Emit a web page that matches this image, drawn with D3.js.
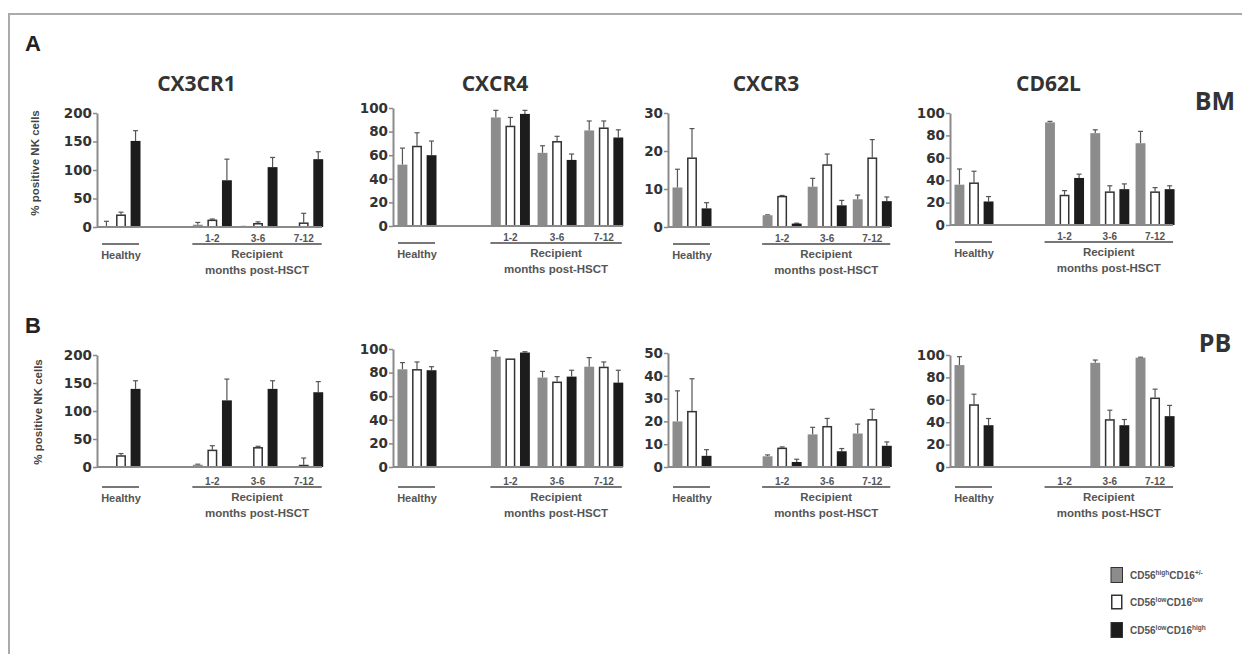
<!DOCTYPE html>
<html><head><meta charset="utf-8">
<script src="https://cdn.jsdelivr.net/npm/d3@7"></script>
<style>body{margin:0;background:#fff}</style>
</head><body>
<svg id="c" width="1242" height="654"></svg>
<script>
// ---------- data ----------
const groups = ["Healthy", "1-2", "3-6", "7-12"];
const seriesKeys = ["high", "lowlow", "lowhigh"];
const markers = ["CX3CR1", "CXCR4", "CXCR3", "CD62L"];
const tissues = ["BM", "PB"];
const rowLetters = ["A", "B"];
const ticksBM = [[0, 50, 100, 150, 200], [0, 20, 40, 60, 80, 100], [0, 10, 20, 30], [0, 20, 40, 60, 80, 100]];
const ticksPB = [[0, 50, 100, 150, 200], [0, 20, 40, 60, 80, 100], [0, 10, 20, 30, 40, 50], [0, 20, 40, 60, 80, 100]];

// mean values: [group][series]  (gray, white, black)
const bm_cx3cr1_mean = [[0.5, 22, 151], [4, 13, 82], [0.5, 7, 105], [0.5, 8, 119]];
const bm_cx3cr1_err  = [[10, 26, 169], [8, 14, 119], [1, 9, 122], [0.5, 24, 132]];
const bm_cxcr4_mean  = [[52, 68, 60], [92, 85, 95], [62, 72, 56], [81, 83.5, 75]];
const bm_cxcr4_err   = [[66, 79, 72], [98, 92, 98], [68, 76, 61], [89, 89, 81.5]];
const bm_cxcr3_mean  = [[10.4, 18.3, 4.9], [3.1, 8.2, 0.9], [10.6, 16.5, 5.7], [7.3, 18.3, 6.8]];
const bm_cxcr3_err   = [[15.2, 25.9, 6.4], [3.2, 8.3, 1], [12.8, 19.2, 7], [8.4, 23, 7.9]];
const bm_cd62l_mean  = [[36, 38, 21], [91.6, 27, 42], [82, 30, 32], [73, 30, 32]];
const bm_cd62l_err   = [[50, 48, 25.4], [92.5, 30.7, 45.4], [85, 35, 36.7], [83.6, 33.4, 35]];
const pb_cx3cr1_mean = [[0, 21, 139.5], [4, 31, 119], [1, 35.6, 139.5], [1, 4, 133.5]];
const pb_cx3cr1_err  = [[0, 24, 154], [5, 38, 157], [1, 37, 154], [1, 16, 152.5]];
const pb_cxcr4_mean  = [[82.8, 83, 82], [93.5, 92, 97], [75.8, 72.4, 76.6], [85, 85, 71.5]];
const pb_cxcr4_err   = [[88.5, 89, 85], [98.6, 92, 97.7], [81, 76.6, 82], [92.7, 89, 82]];
const pb_cxcr3_mean  = [[20, 24.6, 4.9], [4.7, 8.5, 2.2], [14.3, 18, 6.9], [14.7, 21, 9.3]];
const pb_cxcr3_err   = [[33.4, 38.7, 7.6], [5.3, 8.8, 3.4], [17.4, 21.3, 8.1], [18.8, 25.3, 11]];
const pb_cd62l_mean  = [[91, 56, 37.3], [null, null, null], [93, 42.7, 37.3], [97.6, 62, 45.4]];
const pb_cd62l_err   = [[98.5, 65, 43.3], [null, null, null], [95.5, 50.7, 42.4], [98, 69.5, 55]];

const means = [[bm_cx3cr1_mean, bm_cxcr4_mean, bm_cxcr3_mean, bm_cd62l_mean],
               [pb_cx3cr1_mean, pb_cxcr4_mean, pb_cxcr3_mean, pb_cd62l_mean]];
const errs  = [[bm_cx3cr1_err, bm_cxcr4_err, bm_cxcr3_err, bm_cd62l_err],
               [pb_cx3cr1_err, pb_cxcr4_err, pb_cxcr3_err, pb_cd62l_err]];
const ticks = [ticksBM, ticksPB];

// ---------- layout ----------
const svg = d3.select("#c");
const colAxis = [97, 393, 668, 950];
const colEnd  = [322, 623, 890, 1173];
const topY  = [[113, 108, 113, 113], [355, 349, 353, 355]];
const zeroY = [[227, 226, 227, 225], [467, 467, 467, 467]];
const lineOff = [17, 20];
const fills = ["#8c8c8c", "#ffffff", "#1c1c1c"];
const slots = [0, 2, 3, 4];

// frame
svg.append("line").attr("x1", 9).attr("x2", 1242).attr("y1", 14).attr("y2", 14).attr("stroke", "#aaa").attr("stroke-width", 2);
svg.append("line").attr("x1", 9).attr("x2", 9).attr("y1", 13).attr("y2", 654).attr("stroke", "#aaa").attr("stroke-width", 2);

const font = "'Liberation Sans', Arial, sans-serif";

rowLetters.forEach((L, r) => {
  svg.append("text").attr("x", 25).attr("y", r === 0 ? 51 : 333).text(L)
    .attr("font-family", font).attr("font-weight", "bold").attr("font-size", 22).attr("fill", "#222");
  svg.append("text").attr("x", 1215).attr("y", r === 0 ? 110 : 352).text(tissues[r])
    .attr("text-anchor", "middle").attr("font-family", "'Open Sans', sans-serif").attr("font-weight", "bold")
    .attr("font-size", 25).attr("fill", "#333");
  const yc = r === 0 ? 163 : 412, xc = r === 0 ? 39 : 42;
  svg.append("text").attr("transform", `translate(${xc},${yc}) rotate(-90)`).text("% positive NK cells")
    .attr("text-anchor", "middle").attr("font-family", font).attr("font-weight", "bold")
    .attr("font-size", 11.5).attr("fill", "#444");
});

markers.forEach((m, c) => {
  svg.append("text").attr("x", (colAxis[c] + colEnd[c]) / 2 - 13).attr("y", 91).text(m)
    .attr("text-anchor", "middle").attr("font-family", "'Open Sans', sans-serif").attr("font-weight", "bold")
    .attr("font-size", 21).attr("fill", "#333");
});

for (let r = 0; r < 2; r++) {
  for (let c = 0; c < 4; c++) {
    const tk = ticks[r][c];
    const y = d3.scaleLinear().domain([0, tk[tk.length - 1]]).range([zeroY[r][c], topY[r][c]]);
    const step = (colEnd[c] - colAxis[c]) * 0.203;
    const x = d3.scaleLinear().domain([0, 4]).range([colAxis[c] + 24, colAxis[c] + 24 + 4 * step]);
    const inner = d3.scaleBand().domain(seriesKeys).range([-19.5, 19.5]).paddingInner(0.32);
    const bw = inner.bandwidth();
    const g = svg.append("g");

    // y axis
    const ax = g.append("g").attr("transform", `translate(${colAxis[c]},0)`)
      .call(d3.axisLeft(y).tickValues(tk).tickSize(4).tickPadding(1).tickSizeOuter(0));
    ax.select(".domain").attr("stroke", "#8a8a8a").attr("stroke-width", 2);
    ax.selectAll(".tick line").attr("stroke", "#8a8a8a").attr("stroke-width", 1.5);
    ax.selectAll(".tick text").attr("font-family", "'DejaVu Sans', sans-serif").attr("font-weight", "bold")
      .attr("font-size", 13.5).attr("fill", "#333");

    // bars
    groups.forEach((gname, gi) => {
      const cx = x(slots[gi]);
      seriesKeys.forEach((s, si) => {
        const v = means[r][c][gi][si];
        const e = errs[r][c][gi][si];
        if (v === null) return;
        const bx = cx + inner(s);
        const by = y(v);
        const h = y(0) - by;
        const mid = bx + bw / 2;
        if (e !== null && e > v) {
          g.append("line").attr("x1", mid).attr("x2", mid).attr("y1", by).attr("y2", y(e))
            .attr("stroke", "#555").attr("stroke-width", 1.2);
          g.append("line").attr("x1", mid - 2.5).attr("x2", mid + 2.5).attr("y1", y(e)).attr("y2", y(e))
            .attr("stroke", "#555").attr("stroke-width", 1.2);
        }
        if (si === 1) {
          g.append("rect").attr("x", bx + 0.75).attr("y", by + 0.75).attr("width", bw - 1.5)
            .attr("height", Math.max(0, h - 0.75)).attr("fill", "#fff").attr("stroke", "#333").attr("stroke-width", 1.5);
        } else {
          g.append("rect").attr("x", bx).attr("y", by).attr("width", bw).attr("height", h)
            .attr("fill", fills[si]);
        }
      });
    });

    // x axis line
    g.append("line").attr("x1", colAxis[c]).attr("x2", colEnd[c]).attr("y1", y(0)).attr("y2", y(0))
      .attr("stroke", "#8a8a8a").attr("stroke-width", 2);

    // group annotations
    const ly = zeroY[r][c] + lineOff[r];
    const hx = x(0);
    g.append("line").attr("x1", hx - 19).attr("x2", hx + 18).attr("y1", ly).attr("y2", ly)
      .attr("stroke", "#777").attr("stroke-width", 2);
    g.append("text").attr("x", hx).attr("y", ly + 15).text(groups[0]).attr("text-anchor", "middle")
      .attr("font-family", font).attr("font-weight", "bold").attr("font-size", 11).attr("fill", "#555");
    const rx1 = x(2) - 20, rx2 = x(4) + 18;
    g.append("line").attr("x1", rx1).attr("x2", rx2).attr("y1", ly).attr("y2", ly)
      .attr("stroke", "#777").attr("stroke-width", 2);
    [1, 2, 3].forEach(gi => {
      g.append("text").attr("x", x(slots[gi])).attr("y", ly - 2).text(groups[gi]).attr("text-anchor", "middle")
        .attr("font-family", font).attr("font-weight", "bold").attr("font-size", 10).attr("fill", "#555");
    });
    const rm = (rx1 + rx2) / 2;
    g.append("text").attr("x", rm).attr("y", ly + 14).text("Recipient").attr("text-anchor", "middle")
      .attr("font-family", font).attr("font-weight", "bold").attr("font-size", 11.5).attr("fill", "#555");
    g.append("text").attr("x", rm).attr("y", ly + 30).text("months post-HSCT").attr("text-anchor", "middle")
      .attr("font-family", font).attr("font-weight", "bold").attr("font-size", 11.5).attr("fill", "#555");
  }
}

// legend
const legendParts = [["high", "+/-"], ["low", "low"], ["low", "high"]];
legendParts.forEach((p, i) => {
  const cy = [575, 602, 630][i];
  if (i === 1) {
    svg.append("rect").attr("x", 1111.75).attr("y", cy - 6.75).attr("width", 10).attr("height", 13.5)
      .attr("fill", "#fff").attr("stroke", "#333").attr("stroke-width", 1.5);
  } else {
    svg.append("rect").attr("x", 1111).attr("y", cy - 7.5).attr("width", 11.5).attr("height", 15)
      .attr("fill", fills[i]).attr("stroke", "#333").attr("stroke-width", 1);
  }
  const t = svg.append("text").attr("x", 1130).attr("y", cy + 3.5)
    .attr("font-family", font).attr("font-weight", "bold").attr("font-size", 10).attr("fill", "#555");
  t.append("tspan").text("CD56");
  t.append("tspan").text(p[0]).attr("font-size", 6.5).attr("dy", -4);
  t.append("tspan").text("CD16").attr("dy", 4);
  t.append("tspan").text(p[1]).attr("font-size", 6.5).attr("dy", -4);
});
</script>
</body></html>
